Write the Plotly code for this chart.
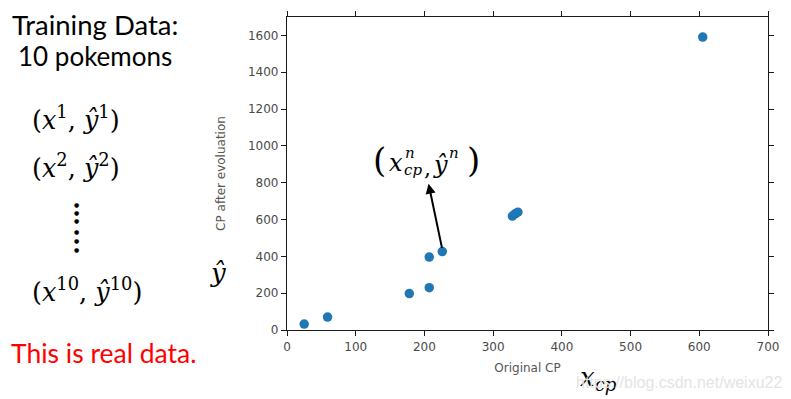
import plotly.graph_objects as go

# Data
original_cp = [25, 59, 178, 207, 207, 226, 328, 332, 336, 605]
cp_after_evolution = [32, 70, 198, 230, 396, 426, 619, 631, 640, 1591]

x_ticks = [0, 100, 200, 300, 400, 500, 600, 700]
y_ticks = [0, 200, 400, 600, 800, 1000, 1200, 1400, 1600]

# annotated sample point and arrow head
ann_point = (226, 426)
ann_head = (206, 795)

# page body has an 8px margin: the figure is sized / placed accordingly
W, H, OFF = 791, 399, 8
L, R, T, B = 287, 768, 11, 330   # plot area in reference pixels

fig = go.Figure()
fig.add_trace(go.Scatter(
    x=original_cp, y=cp_after_evolution, mode="markers",
    marker=dict(color="#1f77b4", size=9.5, line=dict(width=0)),
    showlegend=False, hoverinfo="x+y",
))

axis_common = dict(
    showgrid=False, zeroline=False, showline=True, linecolor="#1a1a1a", linewidth=1.3,
    mirror="ticks", ticks="outside", ticklen=5, tickwidth=1.3, tickcolor="#1a1a1a",
    tickfont=dict(family="DejaVu Sans", size=12, color="#4a4a4a"),
)
title_font = dict(family="DejaVu Sans", size=12, color="#555")
fig.update_xaxes(range=[0, 700], tickvals=x_ticks, **axis_common,
                 title=dict(text="Original CP", font=title_font, standoff=11))
fig.update_yaxes(range=[0, 1700], tickvals=y_ticks, **axis_common,
                 title=dict(text="CP after evoluation", font=title_font, standoff=19))

annots = []
annots.append(dict(x=ann_head[0], y=ann_head[1], ax=ann_point[0], ay=ann_point[1] + 12,
                   xref="x", yref="y", axref="x", ayref="y", text="", showarrow=True,
                   arrowhead=2, arrowsize=1, arrowwidth=2, arrowcolor="black"))


def px_annot(x, y, text, font, xanchor="left"):
    """place text at a reference-pixel position (paper coords of the plot area)"""
    annots.append(dict(x=(x - L) / (R - L), y=(B - y) / (B - T), xref="paper", yref="paper",
                       xanchor=xanchor, yanchor="middle", showarrow=False,
                       text=text, font=font))


def serif(size, color="black"):
    return dict(family="DejaVu Serif", size=size, color=color)


px_annot(10, 19, "Training Data:", dict(family="Lato", size=27.5, color="black"))
px_annot(16, 51, "10 pokemons", dict(family="Lato", size=26, color="black"))
px_annot(30, 114, "(<i>x</i><sup>1</sup>, <i>ŷ</i><sup>1</sup>)", serif(25.5))
px_annot(30, 163, "(<i>x</i><sup>2</sup>, <i>ŷ</i><sup>2</sup>)", serif(25.5))
for dy in [202, 210, 218, 230, 239, 248]:
    px_annot(76, dy, "●", dict(family="DejaVu Sans", size=6, color="black"), xanchor="center")
px_annot(30, 289, "(<i>x</i><sup>10</sup>, <i>ŷ</i><sup>10</sup>)", serif(25.5))
px_annot(9, 353, "This is real data.", dict(family="Lato", size=26.5, color="#ff0000"))

# label of the annotated point, built from pieces to stack sub/superscripts
px_annot(379, 157, "(", serif(34), xanchor="center")
px_annot(396, 160, "<i>x</i>", serif(24), xanchor="center")
px_annot(410, 150, "<i>n</i>", serif(15), xanchor="center")
px_annot(413, 167, "<i>cp</i>", serif(15), xanchor="center")
px_annot(427, 165, ",", serif(22), xanchor="center")
px_annot(440, 162, "<i>ŷ</i>", serif(24), xanchor="center")
px_annot(454, 150, "<i>n</i>", serif(15), xanchor="center")
px_annot(473, 157, ")", serif(34), xanchor="center")

# big axis symbols
px_annot(218, 272, "<i>ŷ</i>", serif(26), xanchor="center")
px_annot(578, 379, "<i>x<sub>cp</sub></i>", serif(26))

# watermark
px_annot(679, 383, "https://blog.csdn.net/weixu22",
         dict(family="Liberation Sans", size=16, color="#e4e4e4"), xanchor="center")

fig.update_layout(
    width=W - OFF, height=H - OFF,
    margin=dict(l=L - OFF, r=W - R, t=T - OFF, b=H - B),
    plot_bgcolor="white", paper_bgcolor="white",
    annotations=annots,
)

fig.write_html("out.html")
